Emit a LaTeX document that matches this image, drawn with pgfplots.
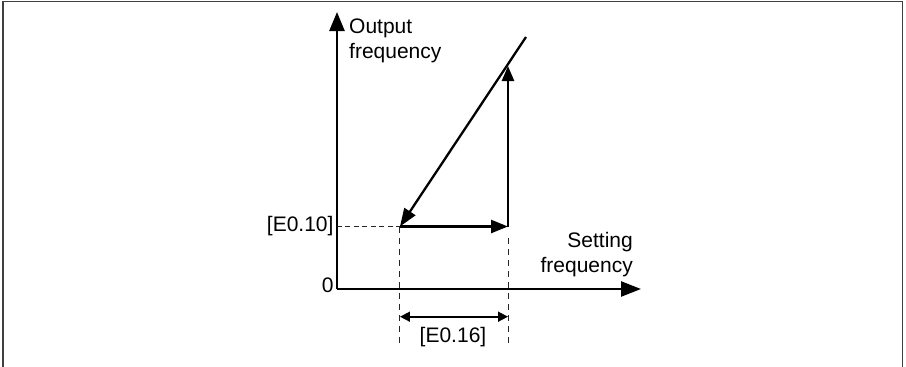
\documentclass[border=0pt]{standalone}
\usepackage{fontspec}
\setmainfont{Liberation Sans}
\usepackage{pgfplots}
\pgfplotsset{compat=1.18}
\usetikzlibrary{arrows.meta}

\newcommand{\lblfont}{\fontsize{21bp}{25bp}\selectfont}

\begin{document}
\begin{tikzpicture}[x=1bp,y=1bp]
% page = 906 x 366, axis origin at (0,0)
\useasboundingbox (-337,-77) rectangle (569,289);
\draw[line width=1.5bp, black!75] (-334,-80) -- (-334,287.5) -- (565.5,287.5) -- (565.5,-80);

\begin{axis}[
    x=1bp, y=1bp,
    anchor=origin, at={(0,0)},
    xmin=0, xmax=304,
    ymin=0, ymax=277,
    axis lines=left,
    x axis line style={line width=2.5bp, -{Triangle[length=20bp,width=15bp]}},
    y axis line style={line width=2.5bp, -{Triangle[length=19bp,width=15bp]}},
    xtick=\empty,
    ytick={62.5},
    yticklabels={[E0.10]},
    extra y ticks={0},
    extra y tick labels={0},
    extra y tick style={yticklabel style={yshift=4bp}},
    major tick length=0,
    tick label style={font=\lblfont},
    clip=false,
]
% ramp line, coming down
\addplot[black, line width=2.3bp, -{Triangle[length=18bp,width=13bp]}]
    coordinates {(189,252) (63,62.5)};
% lower level, going right
\addplot[black, line width=2.5bp, -{Triangle[length=17bp,width=13bp]}]
    coordinates {(63,62.5) (171,62.5)};
% jump up
\addplot[black, line width=2.5bp, -{Triangle[length=15bp,width=12bp]}]
    coordinates {(171,62.5) (171,223)};
% guide lines
\addplot[black!85, line width=1.2bp, dash pattern=on 5bp off 3.5bp]
    coordinates {(0,62.5) (63,62.5)};
\addplot[black!85, line width=1bp, dash pattern=on 6bp off 5bp]
    coordinates {(63,62.5) (63,-58)};
\addplot[black!85, line width=1bp, dash pattern=on 6bp off 5bp]
    coordinates {(171,51) (171,-58)};
% width of the band
\addplot[black, line width=1.6bp,
    {Triangle[length=10bp,width=10bp]}-{Triangle[length=10bp,width=10bp]}]
    coordinates {(63,-27.7) (171,-27.7)};

\node[font=\lblfont, anchor=center, inner sep=0] at (axis cs:116,-48.5) {[E0.16]};
\node[font=\lblfont, anchor=north west, align=left, inner sep=0]
    at (axis cs:12,270) {Output\\frequency};
\node[font=\lblfont, anchor=north east, align=right, inner sep=0]
    at (axis cs:296,57) {Setting\\frequency};
\end{axis}
\end{tikzpicture}
\end{document}
